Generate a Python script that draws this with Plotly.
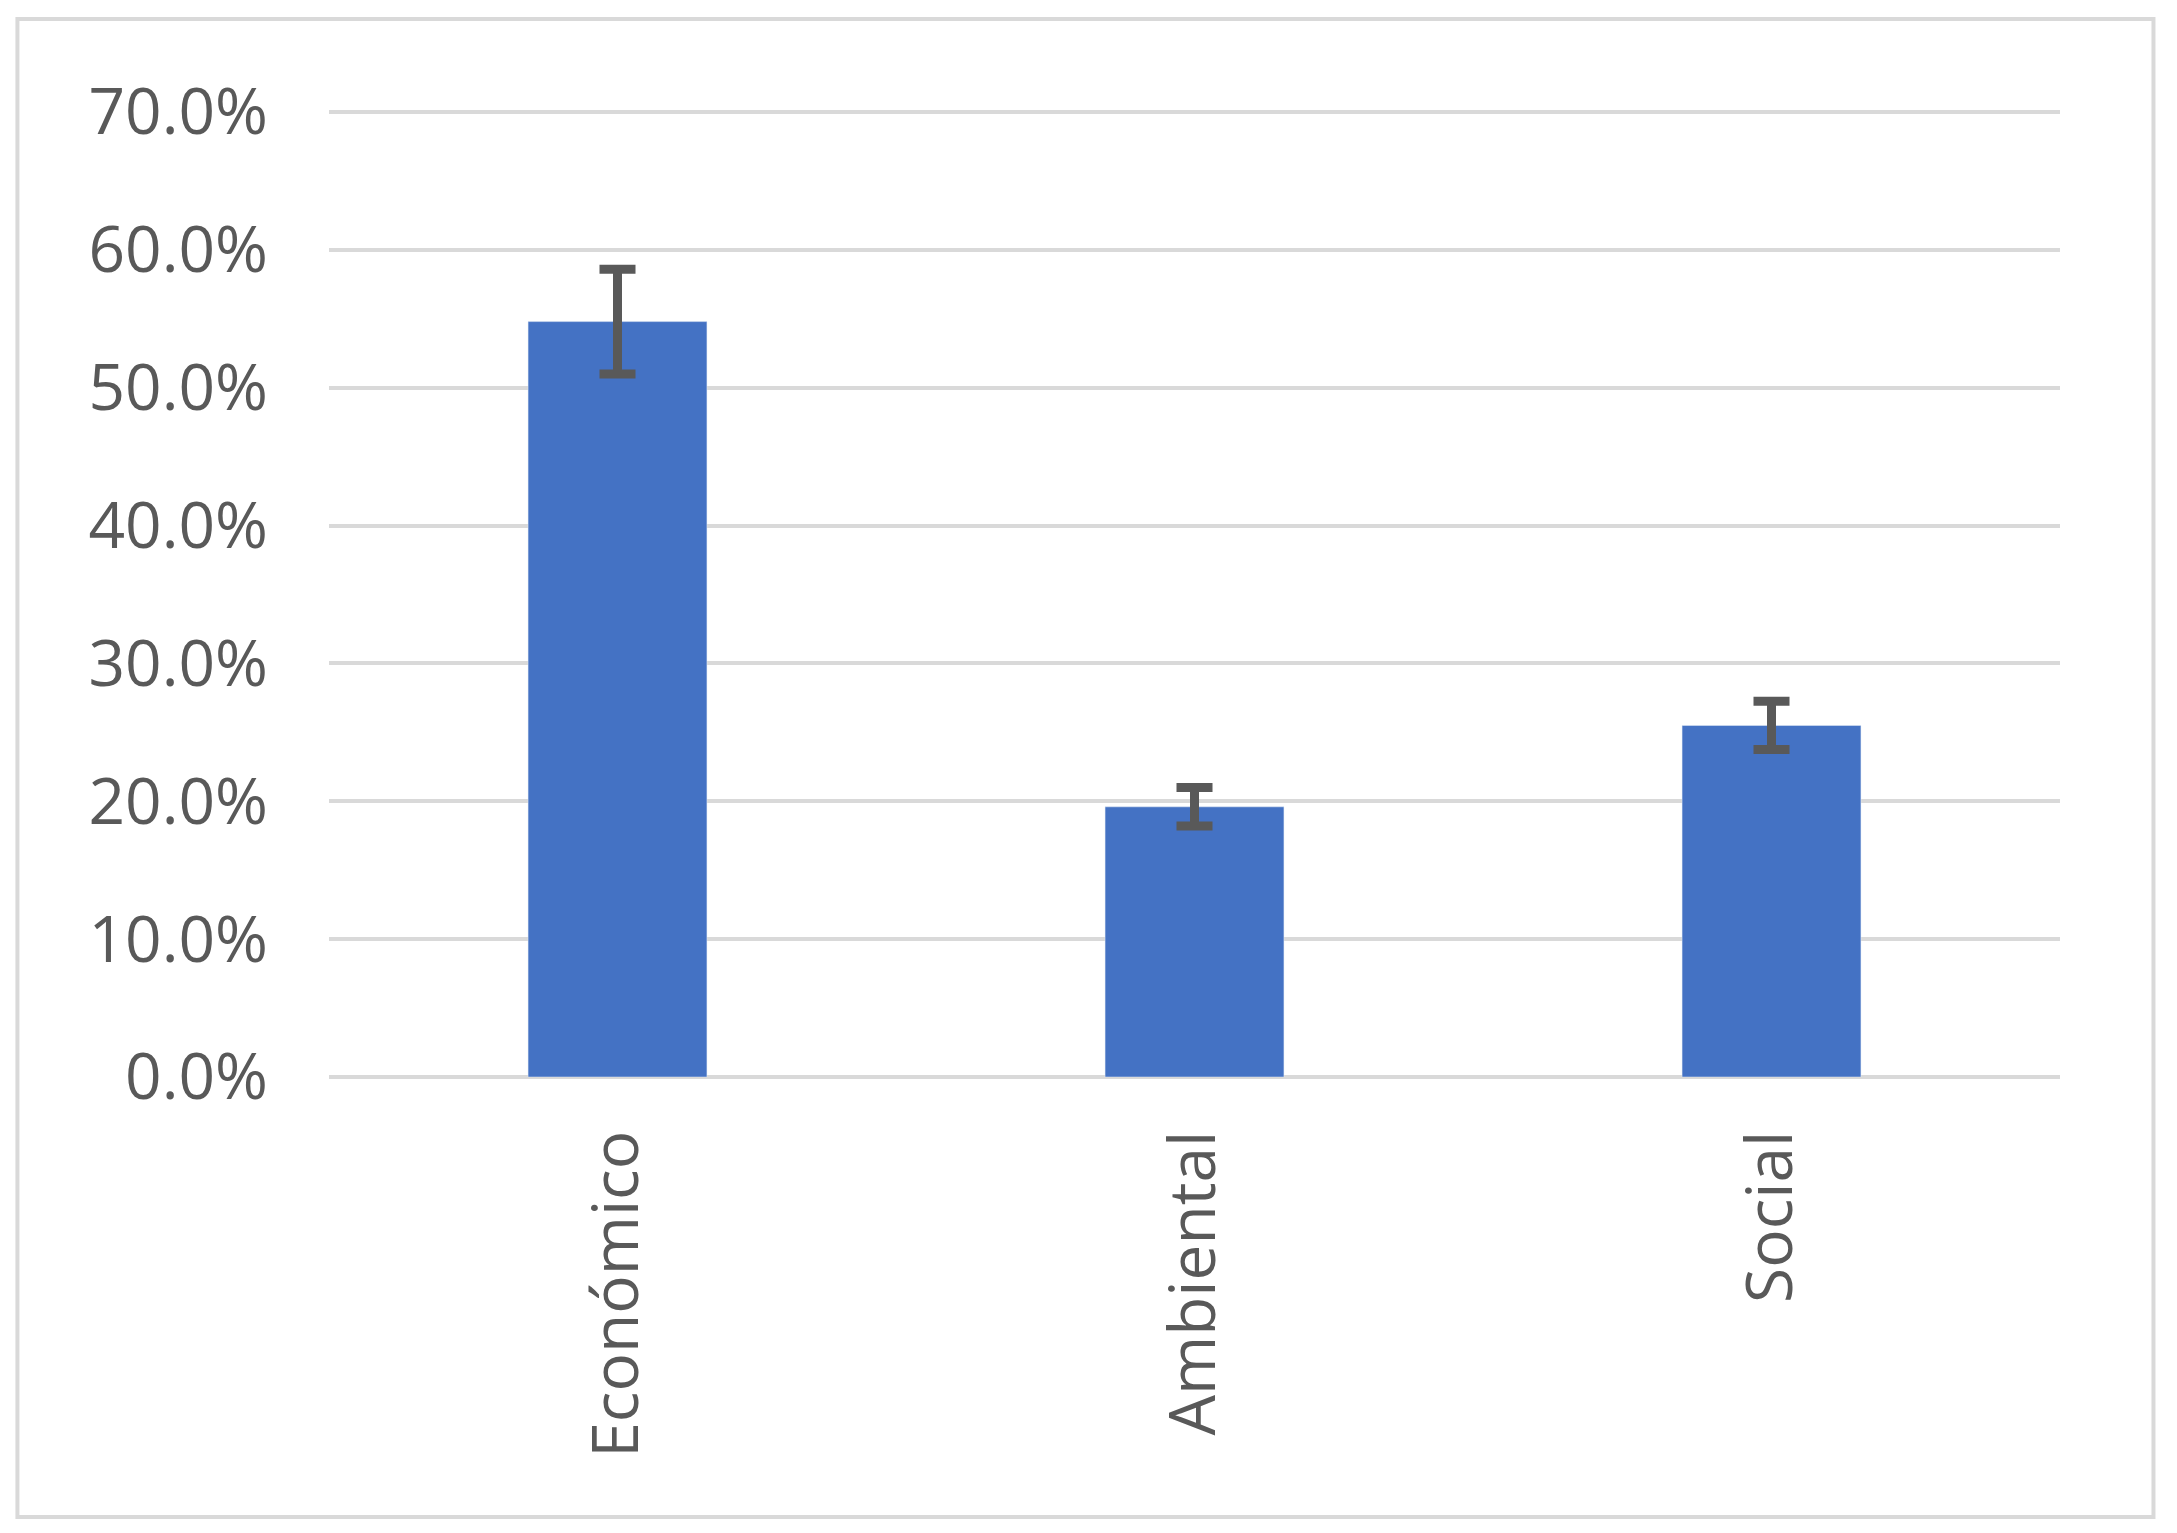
import plotly.graph_objects as go

categories = ["Económico", "Ambiental", "Social"]
values = [0.548, 0.196, 0.255]
errors = [0.038, 0.014, 0.0175]
y_ticks = [0, 0.1, 0.2, 0.3, 0.4, 0.5, 0.6, 0.7]

fig = go.Figure(
    go.Bar(
        x=categories,
        y=values,
        marker_color="#4472C4",
        error_y=dict(type="data", array=errors, color="#595959", thickness=9, width=18),
    )
)

font = dict(family="Open Sans, Calibri, sans-serif", size=64, color="#595959")
fig.update_layout(
    width=2177,
    height=1533,
    margin=dict(l=321, r=125, t=102, b=464),
    plot_bgcolor="white",
    paper_bgcolor="white",
    bargap=0.69,
    showlegend=False,
    font=font,
    xaxis=dict(tickangle=-90, showline=False, ticks="", tickfont=font,
               ticklabelstandoff=40),
    yaxis=dict(
        range=[0, 0.7015],
        tickvals=y_ticks,
        tickformat=".1%",
        showgrid=True,
        gridcolor="#d9d9d9",
        gridwidth=4,
        zeroline=True,
        zerolinecolor="#d9d9d9",
        zerolinewidth=4,
        ticks="",
        tickfont=font,
        ticklabelstandoff=60,
    ),
    shapes=[
        dict(type="rect", xref="paper", yref="paper",
             x0=-0.18, x1=1.054, y0=-0.455, y1=1.094,
             line=dict(color="#d9d9d9", width=4))
    ],
)

fig.write_html("out.html")
